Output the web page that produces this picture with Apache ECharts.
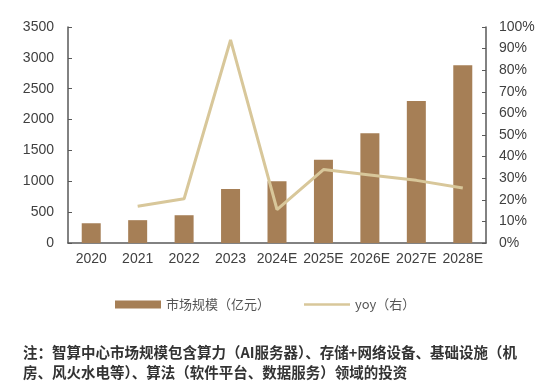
<!DOCTYPE html>
<html><head><meta charset="utf-8">
<script src="https://cdn.jsdelivr.net/npm/echarts@6/dist/echarts.min.js"></script>
<style>html,body{margin:0;padding:0;background:#fff}#c{width:553px;height:392px}</style>
</head><body><div id="c"></div>
<script>
const categories = ['2020','2021','2022','2023','2024E','2025E','2026E','2027E','2028E'];
const marketSize = [320, 370, 450, 875, 1000, 1350, 1780, 2300, 2880];
const yoy = [null, 17, 20.5, 94, 15.5, 34, 31.5, 29, 25.5];
const leftTicks = [0, 500, 1000, 1500, 2000, 2500, 3000, 3500];
const rightTicks = [0,10,20,30,40,50,60,70,80,90,100];
const noteLines = ['注：智算中心市场规模包含算力（AI服务器）、存储+网络设备、基础设施（机', '房、风火水电等）、算法（软件平台、数据服务）领域的投资'];

const chart = echarts.init(document.getElementById('c'), null, {renderer:'canvas'});
const axisCol = '#595959';
const txt = '#404040';
const font = 'Liberation Sans, Arial, sans-serif';
chart.setOption({
  animation:false,
  grid:{left:68, right:67, top:27, bottom:149},
  legend:{
    top:293, left:110, itemGap:34,
    itemWidth:46, itemHeight:8,
    textStyle:{fontFamily:'Noto Sans CJK SC', fontSize:13, color:'#555'},
    data:[{name:'市场规模（亿元）', icon:'rect'}, {name:'yoy（右）', icon:'path://M0,0h46v2.6h-46z'}]
  },
  xAxis:{
    type:'category', data:categories,
    axisLine:{lineStyle:{color:axisCol, width:1.5}},
    axisTick:{inside:true, length:4, lineStyle:{color:axisCol}},
    axisLabel:{color:txt, fontSize:14, fontFamily:font, margin:9, interval:0}
  },
  yAxis:[{
    type:'value', min:0, max:3500, interval:500,
    axisLine:{show:true, lineStyle:{color:axisCol, width:1.5}},
    axisTick:{show:true, inside:true, length:4, lineStyle:{color:axisCol}},
    splitLine:{show:false},
    axisLabel:{color:txt, fontSize:14, fontFamily:font, margin:14,
      formatter:v=>leftTicks.includes(v)?String(v):''}
  },{
    type:'value', min:0, max:100, interval:10,
    axisLine:{show:true, lineStyle:{color:axisCol, width:1.5}},
    axisTick:{show:true, inside:true, length:4, lineStyle:{color:axisCol}},
    splitLine:{show:false},
    axisLabel:{color:txt, fontSize:14, fontFamily:font, margin:13,
      formatter:v=>rightTicks.includes(v)?v+'%':''}
  }],
  series:[{
    name:'市场规模（亿元）', type:'bar', data:marketSize, barWidth:19,
    itemStyle:{color:'#A67F56'}
  },{
    name:'yoy（右）', type:'line', yAxisIndex:1, data:yoy,
    symbol:'none', lineStyle:{color:'#D8C79A', width:3}, itemStyle:{color:'#D8C79A'}
  }],
  graphic:[{
    type:'text', left:23, top:342,
    style:{text:noteLines.join('\n'), fontFamily:'Noto Sans CJK SC', fontSize:14.5, lineHeight:20, fill:'#333', fontWeight:'bold'}
  }]
});
</script></body></html>
